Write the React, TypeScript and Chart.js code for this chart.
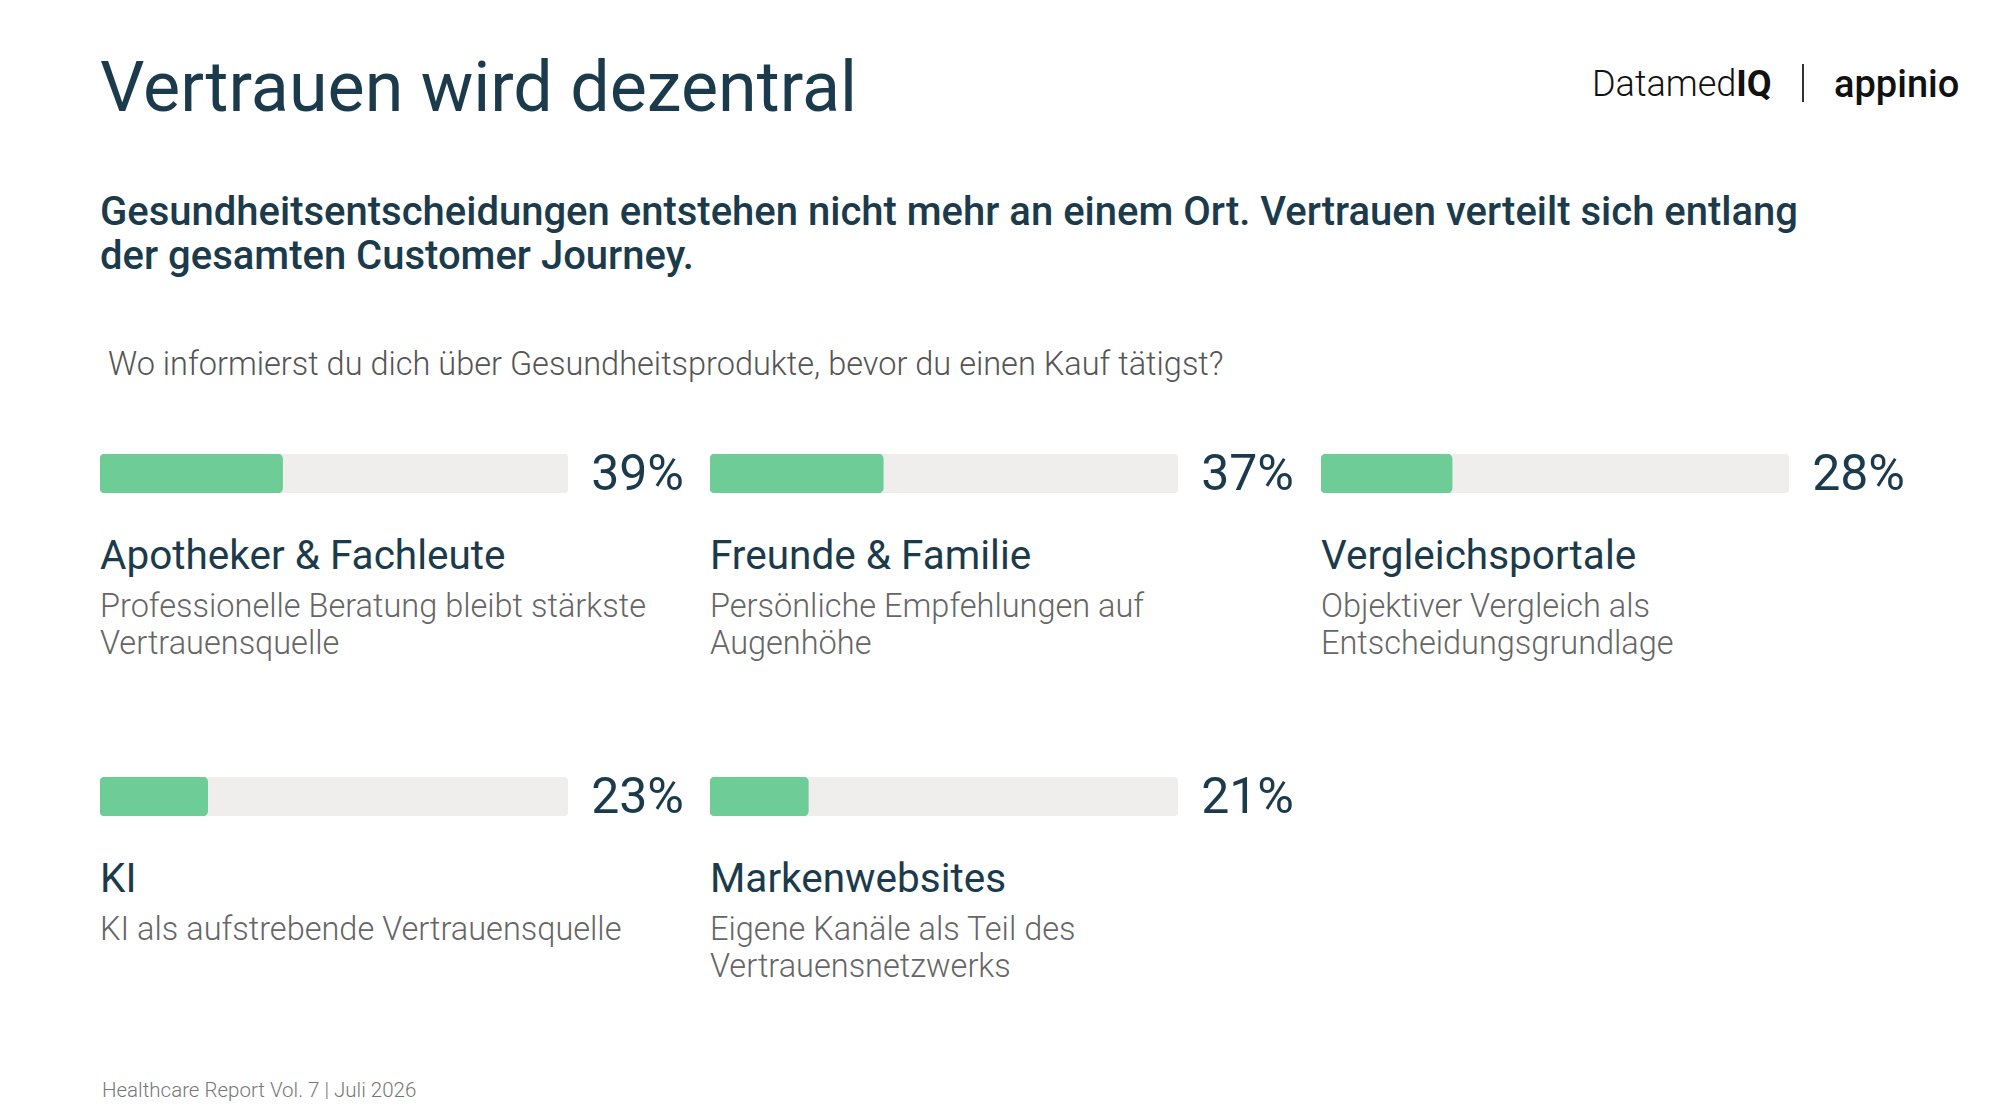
import { useEffect, useRef } from "react";
import { Chart, registerables } from "chart.js";

Chart.register(...registerables);

// Survey results: where people look for information before buying health products
const sources = ["Apotheker & Fachleute", "Freunde & Familie", "Vergleichsportale", "KI", "Markenwebsites"];
const shares = [39, 37, 28, 23, 21];
const descriptions = [
  ["Professionelle Beratung bleibt stärkste", "Vertrauensquelle"],
  ["Persönliche Empfehlungen auf", "Augenhöhe"],
  ["Objektiver Vergleich als", "Entscheidungsgrundlage"],
  ["KI als aufstrebende Vertrauensquelle"],
  ["Eigene Kanäle als Teil des", "Vertrauensnetzwerks"],
];
const scaleMax = 100;

const headline = "Vertrauen wird dezentral";
const leadLines = [
  "Gesundheitsentscheidungen entstehen nicht mehr an einem Ort. Vertrauen verteilt sich entlang",
  "der gesamten Customer Journey.",
];
const question = "Wo informierst du dich über Gesundheitsprodukte, bevor du einen Kauf tätigst?";
const footer = "Healthcare Report Vol. 7 | Juli 2026";

const FONT = "Roboto, 'Noto Sans', sans-serif";
const DARK = "#1b3b4c";
const GREY_TEXT = "#666666";
const GREEN = "#6ecd96";
const TRACK = "#efeeec";

const cardLefts = [100, 710, 1321];
const rowTops = [454, 777];
const cardWidth = 584;
const barHeight = 39;

function ShareBar({ value }: { value: number }) {
  const ref = useRef<HTMLCanvasElement | null>(null);
  useEffect(() => {
    if (!ref.current) return;
    const chart = new Chart(ref.current, {
      type: "bar",
      data: {
        labels: [""],
        datasets: [
          {
            data: [value],
            backgroundColor: GREEN,
            borderRadius: 5,
            borderSkipped: false,
            grouped: false,
            order: 1,
            barPercentage: 1,
            categoryPercentage: 1,
          },
          {
            data: [scaleMax],
            backgroundColor: TRACK,
            borderRadius: 5,
            borderSkipped: false,
            grouped: false,
            order: 2,
            barPercentage: 1,
            categoryPercentage: 1,
          },
        ],
      },
      options: {
        indexAxis: "y",
        animation: false,
        responsive: true,
        maintainAspectRatio: false,
        events: [],
        layout: { padding: 0 },
        plugins: { legend: { display: false }, tooltip: { enabled: false } },
        scales: {
          x: { display: false, min: 0, max: scaleMax },
          y: { display: false },
        },
      } as any,
    });
    return () => chart.destroy();
  }, [value]);
  return (
    <div style={{ position: "relative", flex: 1, minWidth: 0, height: barHeight }}>
      <canvas ref={ref} />
    </div>
  );
}

function Card({ index }: { index: number }) {
  const left = cardLefts[index % 3];
  const top = rowTops[Math.floor(index / 3)];
  return (
    <div style={{ position: "absolute", left, top, width: cardWidth }}>
      <div style={{ display: "flex", alignItems: "center", height: barHeight }}>
        <ShareBar value={shares[index]} />
        <span
          style={{
            marginLeft: 23,
            fontSize: 50,
            lineHeight: `${barHeight}px`,
            color: DARK,
            fontWeight: 400,
          }}
        >
          {`${shares[index]}%`}
        </span>
      </div>
      <div
        style={{
          position: "absolute",
          left: 0,
          top: 81,
          fontSize: 40.5,
          lineHeight: "40.5px",
          color: DARK,
          whiteSpace: "nowrap",
        }}
      >
        {sources[index]}
      </div>
      <div
        style={{
          position: "absolute",
          left: 0,
          top: 134,
          fontSize: 32.5,
          lineHeight: "37px",
          color: GREY_TEXT,
          fontWeight: 300,
          whiteSpace: "nowrap",
        }}
      >
        {descriptions[index].map((line, i) => (
          <div key={i}>{line}</div>
        ))}
      </div>
    </div>
  );
}

export default function App() {
  return (
    <div
      style={{
        position: "absolute",
        left: 0,
        top: 0,
        width: 2000,
        height: 1114,
        background: "#ffffff",
        fontFamily: FONT,
        overflow: "hidden",
      }}
    >
      <div
        style={{
          position: "absolute",
          left: 100,
          top: 52,
          fontSize: 70,
          lineHeight: "70px",
          color: DARK,
          fontWeight: 400,
          whiteSpace: "nowrap",
        }}
      >
        {headline}
      </div>

      <div style={{ position: "absolute", left: 1592, top: 64, height: 40, display: "flex", alignItems: "baseline" }}>
        <span style={{ fontSize: 36, fontWeight: 300, color: "#111", lineHeight: "40px" }}>Datamed</span>
        <span style={{ fontSize: 36, fontWeight: 700, color: "#111", lineHeight: "40px" }}>IQ</span>
      </div>
      <div style={{ position: "absolute", left: 1802, top: 64, width: 2, height: 38, background: "#333" }} />
      <div
        style={{
          position: "absolute",
          left: 1834,
          top: 64,
          fontSize: 38,
          lineHeight: "40px",
          fontWeight: 500,
          color: "#111",
        }}
      >
        appinio
      </div>

      <div
        style={{
          position: "absolute",
          left: 100,
          top: 190,
          fontSize: 40,
          lineHeight: "44px",
          color: DARK,
          fontWeight: 500,
          whiteSpace: "nowrap",
        }}
      >
        {leadLines.map((line, i) => (
          <div key={i}>{line}</div>
        ))}
      </div>

      <div
        style={{
          position: "absolute",
          left: 108,
          top: 348,
          fontSize: 32.5,
          lineHeight: "32.5px",
          color: "#555555",
          fontWeight: 300,
          whiteSpace: "nowrap",
        }}
      >
        {question}
      </div>

      {sources.map((_, i) => (
        <Card key={i} index={i} />
      ))}

      <div
        style={{
          position: "absolute",
          left: 102,
          top: 1080,
          fontSize: 20.5,
          lineHeight: "20.5px",
          color: "#777777",
          fontWeight: 300,
          whiteSpace: "nowrap",
        }}
      >
        {footer}
      </div>
    </div>
  );
}
